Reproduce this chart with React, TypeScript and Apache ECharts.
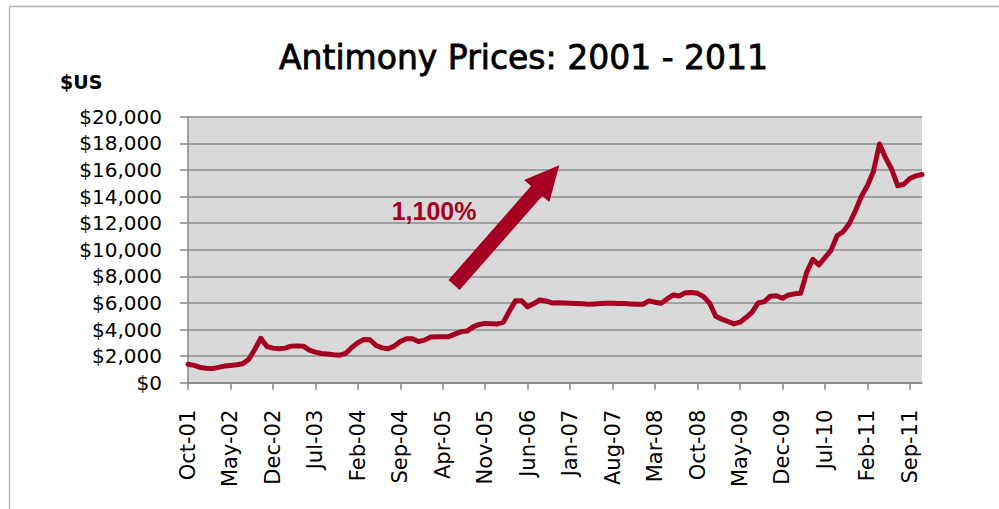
import React, { useEffect, useRef } from "react";
import * as echarts from "echarts";

// Monthly antimony price (US$/t), Oct-01 .. Nov-11
const prices: number[] = [
  1390, 1300, 1150, 1080, 1060, 1150, 1250, 1300, 1350, 1420,
  1750, 2500, 3340, 2720, 2600, 2550, 2600, 2750, 2760, 2750,
  2450, 2300, 2200, 2150, 2100, 2070, 2200, 2650, 3000, 3250,
  3230, 2800, 2620, 2550, 2750, 3100, 3300, 3300, 3100, 3200,
  3430, 3460, 3460, 3460, 3650, 3830, 3880, 4200, 4380, 4460,
  4440, 4420, 4550, 5400, 6170, 6170, 5700, 5950, 6220, 6150,
  6000, 6020, 6000, 5980, 5960, 5930, 5900, 5920, 5950, 5970,
  5970, 5960, 5950, 5920, 5900, 5900, 6150, 6050, 5970, 6300,
  6600, 6520, 6770, 6780, 6720, 6470, 5970, 5000, 4780, 4600,
  4420, 4550, 4900, 5300, 6000, 6100, 6500, 6540, 6350, 6600,
  6680, 6720, 8300, 9280, 8850, 9400, 9950, 11050, 11350, 11950,
  12900, 14000, 14800, 15900, 17950, 16900, 16050, 14800, 14920, 15350,
  15550, 15650,
];

const monthNames: string[] = ["Jan", "Feb", "Mar", "Apr", "May", "Jun", "Jul", "Aug", "Sep", "Oct", "Nov", "Dec"];
const startYear = 2001;
const startMonth = 9; // October
const categories: string[] = prices.map((_, i) => {
  const m = (startMonth + i) % 12;
  const y = startYear + Math.floor((startMonth + i) / 12);
  return `${monthNames[m]}-${String(y % 100).padStart(2, "0")}`;
});

const yTicks = { min: 0, max: 20000, interval: 2000 };
const titleText = "Antimony Prices: 2001 - 2011";
const unitText = "$US";
const annotationText = "1,100%";

const RED = "#A50021";
const AXIS_GRAY = "#868686";

export default function App() {
  const ref = useRef<HTMLDivElement>(null);
  useEffect(() => {
    if (!ref.current) return;
    const chart = echarts.init(ref.current, undefined, { renderer: "svg" });
    const option: any = {
      animation: false,
      backgroundColor: "#ffffff",
      grid: {
        left: 188,
        right: 77,
        top: 116.7,
        bottom: 126.3,
        show: true,
        backgroundColor: "#D9D9D9",
        borderWidth: 0,
      },
      xAxis: {
        type: "category",
        data: categories,
        boundaryGap: false,
        axisLine: { lineStyle: { color: AXIS_GRAY, width: 1.5 } },
        axisTick: { interval: 6, length: 7, lineStyle: { color: AXIS_GRAY, width: 1.5 } },
        axisLabel: {
          interval: 6,
          rotate: 90,
          margin: 27,
          fontFamily: "DejaVu Sans",
          fontSize: 21,
          color: "#000",
        },
        splitLine: { show: false },
      },
      yAxis: {
        type: "value",
        min: yTicks.min,
        max: yTicks.max,
        interval: yTicks.interval,
        axisLine: { show: true, lineStyle: { color: AXIS_GRAY, width: 1.5 } },
        axisTick: { show: true, length: 8, lineStyle: { color: AXIS_GRAY, width: 1.5 } },
        axisLabel: {
          margin: 26,
          fontFamily: "DejaVu Sans",
          fontSize: 20,
          color: "#000",
          formatter: (v: number) => "$" + v.toLocaleString("en-US"),
        },
        splitLine: { lineStyle: { color: "#8c8c8c", width: 1.5 } },
      },
      series: [
        {
          type: "line",
          data: prices,
          symbol: "none",
          lineStyle: { color: RED, width: 5, cap: "round", join: "round" },
          z: 3,
        },
      ],
      graphic: [
        {
          type: "line",
          z: 100,
          shape: { x1: 9, y1: 6.5, x2: 999, y2: 6.5 },
          style: { stroke: "#b0b0b0", lineWidth: 1.3 },
        },
        {
          type: "line",
          z: 100,
          shape: { x1: 9.5, y1: 6.5, x2: 9.5, y2: 509 },
          style: { stroke: "#b0b0b0", lineWidth: 1.3 },
        },
        {
          type: "text",
          z: 100,
          x: 279,
          y: 57,
          style: {
            text: titleText,
            fontFamily: "DejaVu Sans",
            fontSize: 33,
            fill: "#000",
            stroke: "#000",
            lineWidth: 0.8,
            align: "left",
            verticalAlign: "middle",
          },
        },
        {
          type: "text",
          z: 100,
          x: 60,
          y: 81.5,
          style: {
            text: unitText,
            fontFamily: "DejaVu Sans",
            fontWeight: "bold",
            fontSize: 19,
            fill: "#000",
            align: "left",
            verticalAlign: "middle",
          },
        },
        {
          type: "text",
          z: 100,
          x: 391.7,
          y: 210.5,
          style: {
            text: annotationText,
            fontFamily: "Liberation Sans",
            fontWeight: "bold",
            fontSize: 25,
            fill: RED,
            align: "left",
            verticalAlign: "middle",
          },
        },
        {
          type: "polygon",
          z: 100,
          shape: {
            points: [
              [448.4, 280.0],
              [531.1, 186.0],
              [524.1, 179.9],
              [559.3, 165.3],
              [549.3, 202.1],
              [542.3, 196.0],
              [459.6, 290.0],
            ],
          },
          style: { fill: RED },
        },
      ],
    };
    chart.setOption(option);
    return () => chart.dispose();
  }, []);
  return (
    <div
      ref={ref}
      style={{ position: "absolute", left: 0, top: 0, width: 999, height: 509, background: "#fff" }}
    />
  );
}
